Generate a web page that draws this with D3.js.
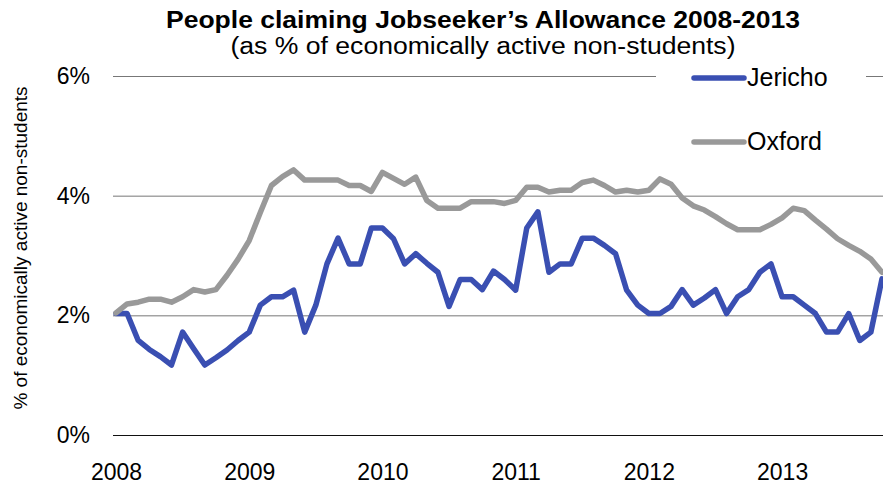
<!DOCTYPE html>
<html>
<head>
<meta charset="utf-8">
<script src="https://cdn.jsdelivr.net/npm/d3@7"></script>
<style>
  html, body { margin: 0; padding: 0; background: #fff; }
  svg { display: block; font-family: "Liberation Sans", Arial, sans-serif; }
</style>
</head>
<body>
<svg id="chart" width="883" height="486"></svg>
<script>
// Monthly claimant rates, Jan 2008 – Oct 2013 (% of economically active non-students)
const jericho = [
  2.03, 2.03, 1.58, 1.43, 1.31, 1.17, 1.72, 1.44, 1.17, 1.29, 1.42, 1.58,
  1.72, 2.17, 2.31, 2.31, 2.42, 1.72, 2.17, 2.86, 3.29, 2.86, 2.86, 3.46,
  3.46, 3.28, 2.86, 3.03, 2.87, 2.72, 2.15, 2.60, 2.60, 2.43, 2.74, 2.60,
  2.42, 3.46, 3.73, 2.72, 2.86, 2.86, 3.29, 3.29, 3.17, 3.03, 2.42, 2.17,
  2.03, 2.03, 2.15, 2.43, 2.17, 2.29, 2.43, 2.03, 2.31, 2.43, 2.72, 2.86,
  2.31, 2.31, 2.17, 2.03, 1.72, 1.72, 2.03, 1.58, 1.72, 2.61
];
const oxford = [
  2.04, 2.19, 2.22, 2.27, 2.27, 2.22, 2.31, 2.43, 2.39, 2.43, 2.67, 2.94,
  3.25, 3.72, 4.17, 4.32, 4.43, 4.26, 4.26, 4.26, 4.26, 4.17, 4.17, 4.07,
  4.39, 4.29, 4.19, 4.31, 3.92, 3.79, 3.79, 3.79, 3.90, 3.90, 3.90, 3.87,
  3.92, 4.14, 4.14, 4.06, 4.09, 4.09, 4.22, 4.26, 4.17, 4.06, 4.09, 4.06,
  4.09, 4.28, 4.19, 3.96, 3.83, 3.76, 3.65, 3.53, 3.43, 3.43, 3.43, 3.52,
  3.63, 3.79, 3.75, 3.59, 3.44, 3.28, 3.17, 3.07, 2.94, 2.72
];
const yearLabels = ["2008", "2009", "2010", "2011", "2012", "2013"];
const yTicks = [0, 2, 4, 6];
const seriesNames = ["Jericho", "Oxford"];
const seriesColors = ["#3a4fb2", "#999999"];

const svg = d3.select("#chart");

const x = d3.scaleLinear().domain([0, jericho.length - 1]).range([116, 882]);
const y = d3.scaleLinear().domain([0, 6]).range([435, 76]);

// Title and subtitle, set in a slightly widened face
svg.append("text")
  .attr("x", 483).attr("y", 28)
  .attr("text-anchor", "middle")
  .attr("font-size", 23).attr("font-weight", "bold")
  .attr("textLength", 634).attr("lengthAdjust", "spacingAndGlyphs")
  .attr("fill", "#000")
  .text("People claiming Jobseeker\u2019s Allowance 2008-2013");
svg.append("text")
  .attr("x", 483).attr("y", 54)
  .attr("text-anchor", "middle")
  .attr("font-size", 23.5)
  .attr("textLength", 505).attr("lengthAdjust", "spacingAndGlyphs")
  .attr("fill", "#000")
  .text("(as % of economically active non-students)");

// Horizontal gridlines
const yAxis = d3.axisLeft(y)
  .tickValues(yTicks)
  .tickSize(-(883 - 113))
  .tickFormat(d => d + "%");
const gy = svg.append("g")
  .attr("transform", "translate(113,0)")
  .call(yAxis);
gy.select(".domain").remove();
gy.selectAll(".tick line")
  .attr("stroke", d => d === 0 ? "#111" : "#777")
  .attr("stroke-width", 1);
gy.selectAll(".tick text")
  .attr("x", -23)
  .attr("font-size", 23)
  .attr("font-family", "Liberation Sans, Arial, sans-serif")
  .attr("fill", "#000");

// Year labels along the bottom
const xAxis = d3.axisBottom(x)
  .tickValues(yearLabels.map((_, i) => i * 12))
  .tickSize(0)
  .tickFormat((d, i) => yearLabels[i]);
const gx = svg.append("g")
  .attr("transform", "translate(0,435)")
  .call(xAxis);
gx.select(".domain").remove();
gx.selectAll(".tick text")
  .attr("y", 45)
  .attr("dy", 0)
  .attr("font-size", 23)
  .attr("font-family", "Liberation Sans, Arial, sans-serif")
  .attr("fill", "#000");

// Y axis title
svg.append("text")
  .attr("transform", "translate(27,248) rotate(-90)")
  .attr("text-anchor", "middle")
  .attr("font-size", 19)
  .attr("fill", "#000")
  .text("% of economically active non-students");

// Series lines
const line = d3.line()
  .x((d, i) => x(i))
  .y(d => y(d));
[jericho, oxford].forEach((data, k) => {
  svg.append("path")
    .datum(data)
    .attr("fill", "none")
    .attr("stroke", seriesColors[k])
    .attr("stroke-width", 5.5)
    .attr("stroke-linejoin", "round")
    .attr("stroke-linecap", "round")
    .attr("d", line);
});

// Legend
const legend = svg.append("g");
legend.append("rect")
  .attr("x", 656).attr("y", 62)
  .attr("width", 210).attr("height", 98)
  .attr("fill", "#fff");
seriesNames.forEach((name, k) => {
  const ly = 78 + k * 64;
  legend.append("line")
    .attr("x1", 694).attr("x2", 744)
    .attr("y1", ly).attr("y2", ly)
    .attr("stroke", seriesColors[k])
    .attr("stroke-width", 5.5)
    .attr("stroke-linecap", "round");
  legend.append("text")
    .attr("x", 747).attr("y", ly + 8)
    .attr("font-size", 25)
    .attr("fill", "#000")
    .text(name);
});
</script>
</body>
</html>
